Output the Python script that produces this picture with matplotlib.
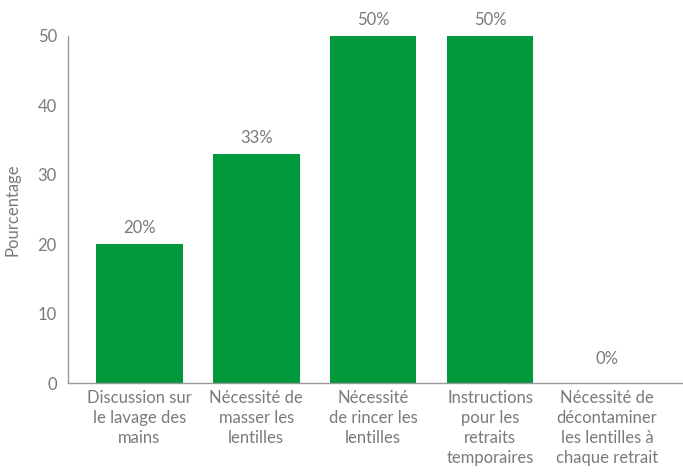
import matplotlib.pyplot as plt

categories = [
    "Discussion sur\nle lavage des\nmains",
    "Nécessité de\nmasser les\nlentilles",
    "Nécessité\nde rincer les\nlentilles",
    "Instructions\npour les\nretraits\ntemporaires",
    "Nécessité de\ndécontaminer\nles lentilles à\nchaque retrait",
]
values = [20, 33, 50, 50, 0]
labels = ["20%", "33%", "50%", "50%", "0%"]

plt.rcParams["font.family"] = ["Lato", "DejaVu Sans"]
grey = "#7a7a7a"
green = "#009a3d"
fs = 12

fig = plt.figure(figsize=(6.83, 4.75), dpi=100)
ax = fig.add_axes([68 / 683, 1 - 383 / 475, 1 - 68 / 683, (383 - 36) / 475])

x = list(range(len(values)))
bars = ax.bar(x, values, width=0.74, color=green)
for xi, v, lab in zip(x, values, labels):
    ax.text(xi, v + 1.2 if v > 0 else 2.3, lab, ha="center", va="bottom",
            fontsize=fs, color=grey)

ax.set_xlim(-0.61, 4.65)
ax.set_ylim(0, 50)
ax.set_yticks([0, 10, 20, 30, 40, 50])
ax.set_xticks(x)
ax.set_xticklabels(categories, fontsize=fs, color=grey, linespacing=1.3)
ax.tick_params(axis="both", length=0, colors=grey, labelsize=fs)
ax.tick_params(axis="y", pad=8)
ax.tick_params(axis="x", pad=5)
ax.set_ylabel("Pourcentage", fontsize=fs, color=grey, labelpad=12)

for s in ["top", "right"]:
    ax.spines[s].set_visible(False)
for s in ["left", "bottom"]:
    ax.spines[s].set_color("#999999")
    ax.spines[s].set_linewidth(1)

fig.savefig("out.png", dpi=100)
